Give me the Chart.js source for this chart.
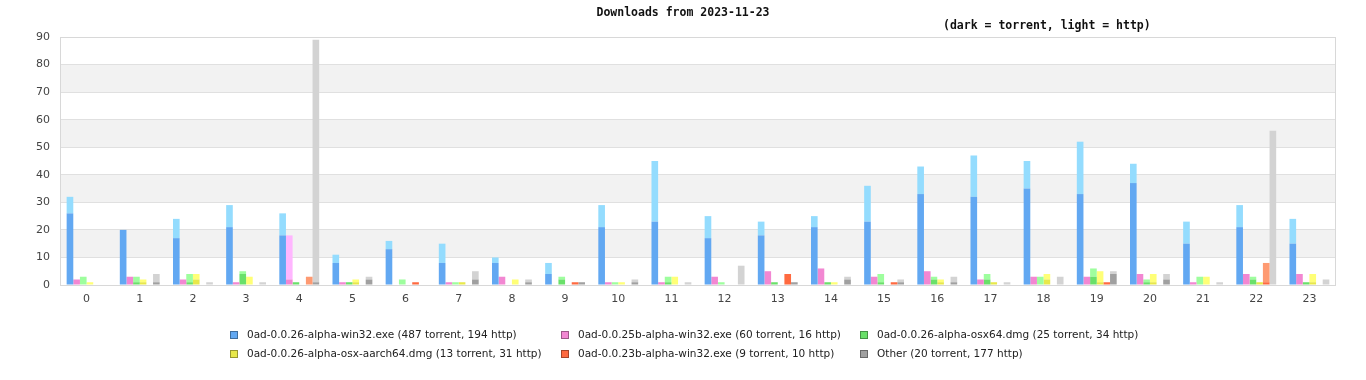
<!DOCTYPE html>
<html>
<head>
<meta charset="utf-8">
<script src="https://cdn.jsdelivr.net/npm/chart.js@4/dist/chart.umd.min.js"></script>
<style>
  html, body { margin:0; padding:0; background:#fff; }
  #wrap { position:relative; width:1366px; height:380px; }
  canvas { position:absolute; left:0; top:0; }
  .lg { position:absolute; font:10.5px "DejaVu Sans", sans-serif; color:#222; white-space:nowrap; line-height:13px; }
  .sw { position:absolute; width:6px; height:6px; border:1px solid rgba(0,0,0,0.35); }
</style>
</head>
<body>
<div id="wrap">
  <canvas id="c" width="1366" height="380"></canvas>
</div>
<script>
const hours = ["0","1","2","3","4","5","6","7","8","9","10","11","12","13","14","15","16","17","18","19","20","21","22","23"];
const yTicks = [0,10,20,30,40,50,60,70,80,90];

const seriesNames = [
  "0ad-0.0.26-alpha-win32.exe",
  "0ad-0.0.25b-alpha-win32.exe",
  "0ad-0.0.26-alpha-osx64.dmg",
  "0ad-0.0.26-alpha-osx-aarch64.dmg",
  "0ad-0.0.23b-alpha-win32.exe",
  "Other"
];

const win32Torrent = [26,20,17,21,18,8,13,8,8,4,21,23,17,18,21,23,33,32,35,33,37,15,21,15];
const win32Http    = [6,0,7,8,8,3,3,7,2,4,8,22,8,5,4,13,10,15,10,19,7,8,8,9];
const b25Torrent   = [2,3,2,1,2,1,0,1,3,0,1,1,3,5,6,3,5,2,3,3,4,1,4,4];
const b25Http      = [0,0,0,0,16,0,0,0,0,0,0,0,0,0,0,0,0,0,0,0,0,0,0,0];
const osx64Torrent = [0,1,1,4,1,1,0,0,0,2,0,1,0,1,1,1,2,2,0,3,1,0,2,1];
const osx64Http    = [3,2,3,1,0,0,2,1,0,1,1,2,1,0,0,3,1,2,3,3,1,3,1,0];
const aarchTorrent = [0,1,2,0,0,1,0,1,0,0,0,0,0,0,0,0,1,1,2,1,1,0,1,1];
const aarchHttp    = [1,1,2,3,0,1,0,0,2,0,1,3,0,0,1,0,1,0,2,4,3,3,0,3];
const b23Torrent   = [0,0,0,0,0,0,1,0,0,1,0,0,0,4,0,1,0,0,0,1,0,0,1,0];
const b23Http      = [0,0,0,0,3,0,0,0,0,0,0,0,0,0,0,0,0,0,0,0,0,0,7,0];
const otherTorrent = [0,1,0,0,1,2,0,2,1,1,1,0,0,1,2,1,1,0,0,4,2,0,0,0];
const otherHttp    = [0,3,1,1,88,1,0,3,1,0,1,1,7,0,1,1,2,1,3,1,2,1,56,2];

const darkColors  = ["#62a8f2","#f287d2","#6ae06a","#e8e84a","#ff6a40","#a0a0a0"];
const lightColors = ["#94dcfe","#ffb6ff","#9efe9e","#ffff77","#fe9a72","#d3d3d3"];

const torrentSets = [win32Torrent,b25Torrent,osx64Torrent,aarchTorrent,b23Torrent,otherTorrent];
const httpSets    = [win32Http,b25Http,osx64Http,aarchHttp,b23Http,otherHttp];

const sum = a => a.reduce((s,v)=>s+v,0);

const datasets = [];
seriesNames.forEach((n,i)=>{
  datasets.push({label:n+" torrent", data:torrentSets[i], backgroundColor:darkColors[i], stack:"s"+i, borderWidth:0, categoryPercentage:0.75, barPercentage:1.0});
  datasets.push({label:n+" http", data:httpSets[i], backgroundColor:lightColors[i], stack:"s"+i, borderWidth:0, categoryPercentage:0.75, barPercentage:1.0});
});

// HTML legend (3 columns x 2 rows)
const colX = [230, 561, 860];
const rowY = [331, 350];
const wrap = document.getElementById('wrap');
seriesNames.forEach((n,i)=>{
  const col = i % 3, row = Math.floor(i/3);
  const sw = document.createElement('div');
  sw.className = 'sw';
  sw.style.left = colX[col]+'px';
  sw.style.top = rowY[row]+'px';
  sw.style.background = darkColors[i];
  wrap.appendChild(sw);
  const t = document.createElement('div');
  t.className = 'lg';
  t.style.left = (colX[col]+17)+'px';
  t.style.top = (rowY[row]-3)+'px';
  t.textContent = n + " (" + sum(torrentSets[i]) + " torrent, " + sum(httpSets[i]) + " http)";
  wrap.appendChild(t);
});

const deco = {
  id:'deco',
  beforeDraw(chart){
    const {ctx, chartArea:a, scales:{y}} = chart;
    ctx.save();
    ctx.fillStyle = '#ffffff';
    ctx.fillRect(0,0,chart.width,chart.height);
    ctx.fillStyle = '#f2f2f2';
    for (let k=1; k<yTicks.length-1; k+=2){
      const b = y.getPixelForValue(yTicks[k]);
      const t = y.getPixelForValue(yTicks[k+1]);
      ctx.fillRect(a.left, t, a.right-a.left, b-t);
    }
    ctx.restore();
  },
  beforeDatasetsDraw(chart){
    const {ctx, chartArea:a} = chart;
    ctx.save();
    ctx.strokeStyle = '#d8d8d8';
    ctx.lineWidth = 1;
    ctx.strokeRect(Math.round(a.left)+0.5, Math.round(a.top)+0.5, Math.round(a.right-a.left)-1, Math.round(a.bottom-a.top));
    ctx.restore();
  },
  afterDraw(chart){
    const ctx = chart.ctx;
    ctx.save();
    ctx.fillStyle = '#111';
    ctx.font = 'bold 11.5px "DejaVu Sans Mono", monospace';
    ctx.textBaseline = 'middle';
    ctx.textAlign = 'center';
    ctx.fillText('Downloads from 2023-11-23', 683, 13);
    ctx.textAlign = 'left';
    ctx.fillText('(dark = torrent, light = http)', 943, 26);
    ctx.restore();
  }
};

new Chart(document.getElementById('c'), {
  type:'bar',
  data:{labels:hours, datasets},
  plugins:[deco],
  options:{
    responsive:false,
    animation:false,
    events:[],
    layout:{padding:{left:0, right:30, top:37, bottom:70}},
    plugins:{legend:{display:false}, tooltip:{enabled:false}, title:{display:false}},
    scales:{
      x:{
        stacked:true,
        grid:{display:false, drawTicks:false},
        border:{display:false},
        ticks:{color:'#444', font:{family:'"DejaVu Sans"', size:11}, padding:8, maxRotation:0, autoSkip:false},
        afterFit(s){ s.height = 25; }
      },
      y:{
        stacked:true,
        min:0, max:90,
        afterBuildTicks(s){ s.ticks = yTicks.map(v=>({value:v})); },
        grid:{color:'#e0e0e0', drawTicks:false},
        border:{display:false},
        ticks:{color:'#444', font:{family:'"DejaVu Sans"', size:11}, padding:10},
        afterFit(s){ s.width = 60; }
      }
    }
  }
});
</script>
</body>
</html>
